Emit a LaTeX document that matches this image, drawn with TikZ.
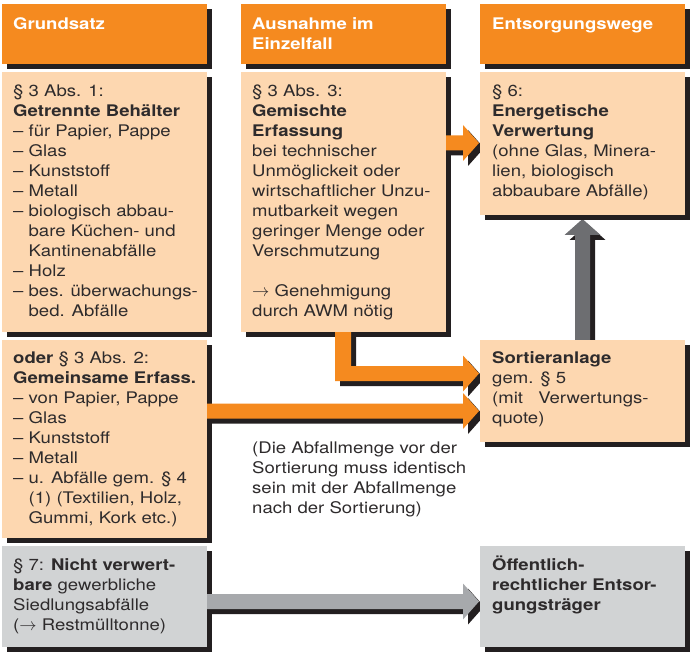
\documentclass[tikz,border=0pt]{standalone}
\usepackage{fontspec}
\setmainfont{TeX Gyre Heros}[FakeStretch=1.16]
\usetikzlibrary{calc,shadows}
\definecolor{org}{HTML}{F58A1F}
\definecolor{peach}{HTML}{FDD7B0}
\definecolor{greybox}{HTML}{D1D3D4}
\definecolor{greyarr}{HTML}{A7A9AC}
\definecolor{darkarr}{HTML}{6D6E71}
\definecolor{shc}{HTML}{231F20}
\definecolor{txtc}{HTML}{2E2B2C}
\newcommand\rarr{{\fontsize{19}{20}\selectfont$\rightarrow$}}
\begin{document}
\begin{tikzpicture}[x=1pt,y=-1pt,
  rbox/.style={drop shadow={shadow xshift=5pt,shadow yshift=-5pt,opacity=1,fill=shc},
    inner sep=0pt, outer sep=0pt, anchor=north west, draw=none, minimum width=205pt},
  hdrbox/.style={rbox, fill=org, minimum height=60pt},
  txt/.style={inner sep=0pt, anchor=base west, text=txtc, font=\fontsize{16}{20}\selectfont},
  htxt/.style={inner sep=0pt, anchor=base west, text=white, font=\fontsize{16}{20}\selectfont\bfseries},
  arr/.style={preaction={fill=shc, transform canvas={shift={(5pt,-5pt)}}}},
]
\useasboundingbox (0,0) rectangle (693,652);
\fill[white] (0,0) rectangle (693,652);

% headers
\node[hdrbox] (h1) at (2,4) {};
\node[hdrbox] (h2) at (241,4) {};
\node[hdrbox] (h3) at (480,4) {};
% left and middle boxes
\node[rbox, fill=peach, minimum height=260pt] (b1) at (2,72) {};
\node[rbox, fill=peach, minimum height=260pt] (b2) at (241,72) {};
\node[rbox, fill=peach, minimum height=198pt] (c1) at (2,340) {};
\node[rbox, fill=greybox, minimum height=101pt] (n1) at (2,546) {};

% arrow end points
\coordinate (a1s) at ($(b2.north east)+(0,71)$);
\coordinate (a1t) at (479,143);
\coordinate (a2s) at ($(b2.south west)+(94,0)$);
\coordinate (a2t) at (479,373.5);
\coordinate (a3s) at ($(c1.north east)+(0,71)$);
\coordinate (a3t) at (479,411);
\coordinate (a4s) at ($(n1.north east)+(0,55.5)$);
\coordinate (a4t) at (479,601.5);
\coordinate (a5s) at (582.5,340);
\coordinate (a5t) at (582.5,219);

% arrows
\fill[arr, org] ($(a1s)+(0,-7.5)$) -- ($(a1t)+(-16,-7.5)$) -- ($(a1t)+(-16,-18)$) -- (a1t)
  -- ($(a1t)+(-16,18)$) -- ($(a1t)+(-16,7.5)$) -- ($(a1s)+(0,7.5)$) -- cycle;
\fill[arr, org] (a2s) -- ($(a2s)+(0,49)$) -- ($(a2t)+(-16,7.5)$) -- ($(a2t)+(-16,18)$) -- (a2t)
  -- ($(a2t)+(-16,-18)$) -- ($(a2t)+(-16,-7.5)$) -- ($(a2s)+(16,34)$) -- ($(a2s)+(16,0)$) -- cycle;
\fill[arr, org] ($(a3s)+(0,-7.5)$) -- ($(a3t)+(-16,-7.5)$) -- ($(a3t)+(-16,-18)$) -- (a3t)
  -- ($(a3t)+(-16,18)$) -- ($(a3t)+(-16,7.5)$) -- ($(a3s)+(0,7.5)$) -- cycle;
\fill[arr, greyarr] ($(a4s)+(0,-7.5)$) -- ($(a4t)+(-16,-7.5)$) -- ($(a4t)+(-16,-18)$) -- (a4t)
  -- ($(a4t)+(-16,18)$) -- ($(a4t)+(-16,7.5)$) -- ($(a4s)+(0,7.5)$) -- cycle;
\fill[arr, darkarr] ($(a5s)+(-7.5,0)$) -- ($(a5t)+(-7.5,16)$) -- ($(a5t)+(-18,16)$) -- (a5t)
  -- ($(a5t)+(18,16)$) -- ($(a5t)+(7.5,16)$) -- ($(a5s)+(7.5,0)$) -- cycle;

% right boxes
\node[rbox, fill=peach, minimum height=143pt] (e1) at (480,72) {};
\node[rbox, fill=peach, minimum height=102pt] (s1) at (480,340) {};
\node[rbox, fill=greybox, minimum height=101pt] (o1) at (480,546) {};

% header texts
\node[htxt] (ht1) at ($(h1.north west)+(11,26)$) {Grundsatz};
\node[htxt] (ht2) at ($(h2.north west)+(11,26)$) {\parbox[t]{190pt}{Ausnahme im\\Einzelfall}};
\node[htxt] (ht3) at ($(h3.north west)+(12,26)$) {Entsorgungswege};

% body texts
\node[txt] (t1) at ($(b1.north west)+(11,25)$) {\parbox[t]{230pt}{%
§ 3 Abs. 1:\\
\textbf{Getrennte Behälter}\\
– für Papier, Pappe\\
– Glas\\
– Kunststoff\\
– Metall\\
– biologisch abbau-\\
\phantom{– }bare Küchen- und\\
\phantom{– }Kantinenabfälle\\
– Holz\\
– bes. überwachungs-\\
\phantom{– }bed. Abfälle}};

\node[txt] (t2) at ($(b2.north west)+(11,25)$) {\parbox[t]{230pt}{%
§ 3 Abs. 3:\\
\textbf{Gemischte}\\
\textbf{Erfassung}\\
bei technischer\\
Unmöglickeit oder\\
wirtschaftlicher Unzu-\\
mutbarkeit wegen\\
geringer Menge oder\\
Verschmutzung\\[20pt]
\rarr{} Genehmigung\\
durch AWM nötig}};

\node[txt] (t3) at ($(e1.north west)+(12,25)$) {\parbox[t]{230pt}{%
§ 6:\\
\textbf{Energetische}\\
\textbf{Verwertung}\\
(ohne Glas, Minera-\\
lien, biologisch\\
abbaubare Abfälle)}};

\node[txt] (t4) at ($(c1.north west)+(11,23)$) {\parbox[t]{230pt}{%
\textbf{oder} § 3 Abs. 2:\\
\textbf{Gemeinsame Erfass.}\\
– von Papier, Pappe\\
– Glas\\
– Kunststoff\\
– Metall\\
– u. Abfälle gem. § 4\\
\phantom{– }(1) (Textilien, Holz,\\
\phantom{– }Gummi, Kork etc.)}};

\node[txt] (t5) at ($(n1.north west)+(11,24)$) {\parbox[t]{230pt}{%
§ 7: \textbf{Nicht verwert-}\\
\textbf{bare} gewerbliche\\
Siedlungsabfälle\\
(\rarr{} Restmülltonne)}};

\node[txt] (t6) at ($(s1.north west)+(12,23)$) {\parbox[t]{230pt}{%
\textbf{Sortieranlage}\\
gem. § 5\\
(mit\hspace{10pt} Verwertungs-\\
quote)}};

\node[txt] (t7) at ($(o1.north west)+(12,24)$) {\parbox[t]{230pt}{\bfseries
Öffentlich-\\
rechtlicher Entsor-\\
gungsträger}};

\node[txt] (note) at (252,453) {\parbox[t]{240pt}{%
(Die Abfallmenge vor der\\
Sortierung muss identisch\\
sein mit der Abfallmenge\\
nach der Sortierung)}};
\end{tikzpicture}
\end{document}
